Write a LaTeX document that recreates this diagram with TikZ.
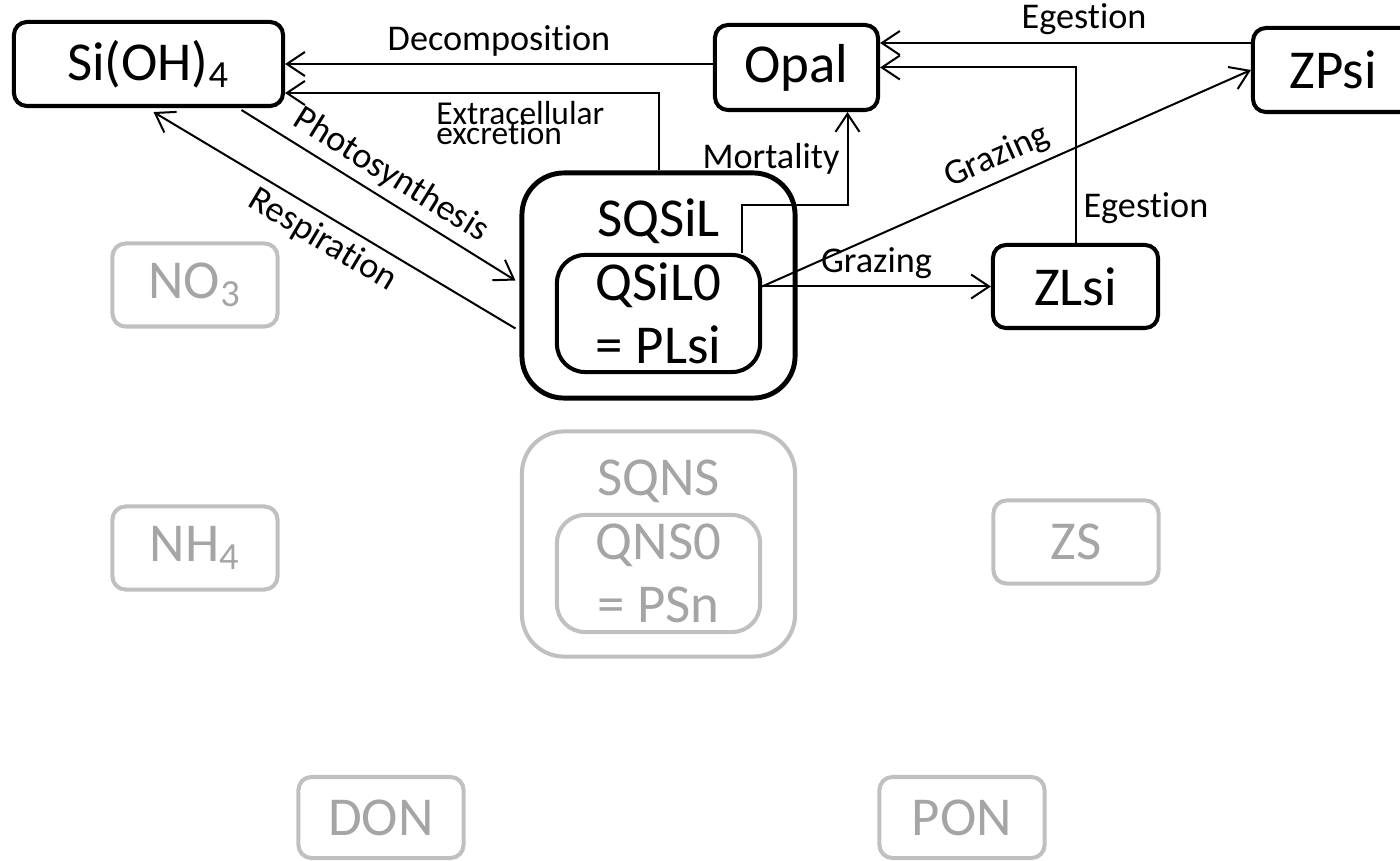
\documentclass[tikz,border=0pt]{standalone}
\usepackage{fontspec}
\setmainfont{Carlito}[Ligatures=CommonOff]
\usetikzlibrary{arrows.meta,calc}
\definecolor{faded}{HTML}{C0C0C0}
\definecolor{fadedtext}{HTML}{A5A5A5}
\newcommand{\tightlines}{\lineskiplimit=-20pt\relax}
\tikzset{
  pool/.style={draw, rounded corners=0.13cm, line width=1.15pt,
               minimum width=1.65cm, minimum height=0.83cm, inner sep=0pt,
               font=\fontsize{15.6}{17.9}\selectfont, align=center},
  cellpool/.style={pool, rounded corners=0.42cm, line width=1.4pt,
                   minimum width=2.73cm, minimum height=2.25cm},
  innerpool/.style={pool, rounded corners=0.28cm,
                    minimum width=2.03cm, minimum height=1.17cm},
  greypool/.style={pool, draw=faded, text=fadedtext},
  greycellpool/.style={cellpool, draw=faded, line width=1.15pt},
  greyinnerpool/.style={innerpool, draw=faded, text=fadedtext},
  pooltitle/.style={anchor=base, inner sep=0pt, font=\fontsize{15.6}{17.9}\selectfont},
  flow/.style={-{Straight Barb[length=0.18cm, width=0.24cm]}, line width=0.57pt},
  backflow/.style={flow, {Straight Barb[length=0.18cm, width=0.24cm]}-},
  flowlabel/.style={font=\fontsize{10.3}{12}\selectfont, inner sep=2pt},
}

\begin{document}
\begin{tikzpicture}[x=0.01cm, y=-0.01cm]
  \useasboundingbox (0,0) rectangle (1400,861);
  % silicon cycle
  \node[pool, minimum width=2.69cm, minimum height=0.84cm] (sioh) at (148.5,64) {Si(OH)\textsubscript{4}};
  \node[pool, minimum width=1.63cm, minimum height=0.85cm] (opal) at (796.5,67.5) {Opal};
  \node[pool, minimum width=1.60cm, minimum height=0.84cm] (zpsi) at (1333,70) {ZPsi};
  \node[pool] (zlsi) at (1075.5,286.5) {ZLsi};
  \node[cellpool] (sqsil) at (658.5,285.5) {};
  \node[pooltitle] (sqsiltxt) at ($(sqsil.north)+(0,66)$) {SQSiL};
  \node[innerpool] (qsil) at (658.5,313.5) {QSiL0\\= PLsi};

  % nitrogen cycle (greyed out)
  \node[greypool] (no3) at (195,285) {NO\textsubscript{3}};
  \node[greypool] (nh4) at (195,548) {NH\textsubscript{4}};
  \node[greycellpool] (sqns) at (658.5,544) {};
  \node[pooltitle, text=fadedtext] (sqnstxt) at ($(sqns.north)+(0,66)$) {SQNS};
  \node[greyinnerpool] (qns) at (658.5,573.5) {QNS0\\= PSn};
  \node[greypool] (zs) at (1076,542) {ZS};
  \node[greypool, minimum height=0.81cm] (don) at (381,817.5) {DON};
  \node[greypool, minimum height=0.81cm] (pon) at (962,817.5) {PON};

  % fluxes
  \draw[flow] (opal.west |- sioh.east) -- (sioh.east)
    node[midway, above, flowlabel] {Decomposition};
  \draw[flow] (sqsil.north) |- ($(sioh.east)+(0,29)$)
    node[pos=0.685, below, align=left, inner sep=2pt,
         font=\fontsize{9.5}{5.7}\selectfont\tightlines] {Extracellular\\excretion};
  \draw[flow] ($(sioh.south)+(93,2)$) -- ($(sqsil.west)+(-4,-5)$)
    node[midway, above, sloped, flowlabel] {Photosynthesis};
  \draw[backflow] ($(sioh.south)+(5,4)$) -- ($(sqsil.west)+(-4,43)$)
    node[midway, below, sloped, flowlabel] {Respiration};
  \draw[flow] ($(qsil.north east)+(-20,0)$) -- ++(0,-48) -| ($(opal.south)+(51,0)$)
    node[pos=0.75, left, flowlabel] {Mortality};
  \draw[flow] (qsil.east |- zlsi.west) -- (zlsi.west)
    node[midway, above, flowlabel] {Grazing};
  \draw[flow] (qsil.east |- zlsi.west) -- (zpsi.west)
    node[midway, above, sloped, flowlabel] {Grazing};
  \draw[flow] (zlsi.north) |- (opal.east)
    node[pos=0.1, right, flowlabel] {Egestion};
  \draw[flow] ($(zpsi.west)+(0,-27)$) -- ($(opal.east)+(0,-24.5)$)
    node[pos=0.45, above, flowlabel] {Egestion};
\end{tikzpicture}
\end{document}
